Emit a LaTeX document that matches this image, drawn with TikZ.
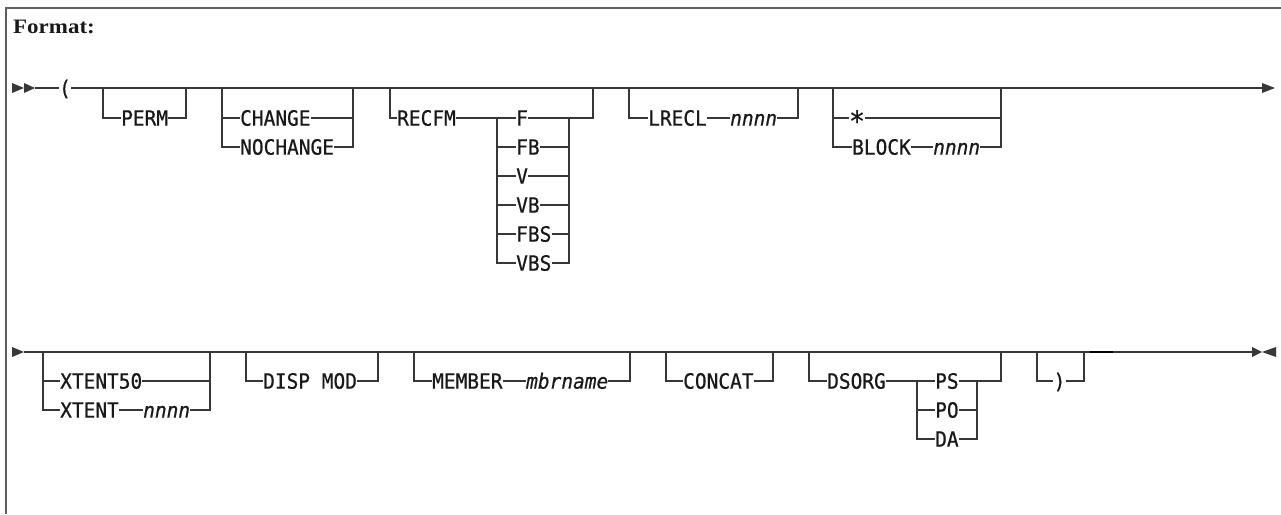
\documentclass[tikz,border=0pt]{standalone}
\usepackage{fontspec}
\newfontfamily\synfont[FakeStretch=0.927, RawFeature={embolden=0.7}]{DejaVu Sans Mono}
\newfontfamily\fmtfont[FakeStretch=1.12]{Liberation Serif}
\newcommand\syn{\synfont\fontsize{21pt}{24pt}\selectfont}
\definecolor{linec}{RGB}{55,55,55}
\definecolor{txtc}{RGB}{25,25,25}
\definecolor{framec}{RGB}{95,95,95}
\tikzset{
  ln/.style={draw=linec, line width=1.4pt},
  lbl/.style={inner sep=0pt, anchor=west, font=\syn, text=txtc, text height=15.3pt, text depth=0pt},
  var/.style={lbl, font=\syn\itshape},
  tip/.style={fill=linec},
  frame/.style={draw=framec, line width=2pt}
}
\begin{document}
\begin{tikzpicture}[x=1pt,y=-1pt]
\useasboundingbox (0,0) rectangle (1281,514);
% frame
\coordinate (fr1) at (6,514);
\coordinate (fr2) at (6,8);
\coordinate (fr3) at (1281,8);
\draw[frame] (fr1) -- (fr2) -- (fr3);
\node[anchor=base west, inner sep=0pt, text=txtc, font=\fmtfont\bfseries\fontsize{20.5}{24}\selectfont] (fmt) at (13,33) {Format:};

% ---------------- row 1 ----------------
\fill[tip] (12,83) -- (24,88) -- (12,93) -- cycle;
\fill[tip] (24,83) -- (35,88) -- (24,93) -- cycle;
\coordinate (st) at (35,88);
\node[lbl,anchor=center] (lp) at (65,88) {(};
\coordinate (end1) at (1262,88);
\draw[ln] (st) -- (lp.west);
\draw[ln] (lp.east) -- (end1);
\fill[tip] (1262,83) -- (1275,88) -- (1262,93) -- cycle;

% PERM
\coordinate (permL) at (103,88);
\coordinate (permR) at (186,88);
\node[lbl] (perm) at (121,118) {PERM};
\draw[ln] (permL) |- (perm.west);
\draw[ln] (perm.east) -| (permR);

% CHANGE / NOCHANGE
\coordinate (chL) at (222,88);
\coordinate (chR) at (353,88);
\node[lbl] (chg) at (240,118) {CHANGE};
\node[lbl] (nochg) at (240,147) {NOCHANGE};
\draw[ln] (chL) |- (nochg.west);
\draw[ln] (chL |- chg.west) -- (chg.west);
\draw[ln] (chg.east) -| (chR);
\draw[ln] (nochg.east) -| (chR);

% RECFM
\coordinate (rfL) at (390,88);
\coordinate (rfR) at (593,88);
\node[lbl] (recfm) at (397,118) {RECFM};
\coordinate (fL) at (497,118);
\coordinate (fR) at (569,118);
\draw[ln] (rfL) |- (recfm.west);
\draw[ln] (recfm.east) -- (fL);
\node[lbl] (f) at (516,118) {F};
\node[lbl] (fb) at (516,147) {FB};
\node[lbl] (v) at (516,176) {V};
\node[lbl] (vb) at (516,205) {VB};
\node[lbl] (fbs) at (516,234) {FBS};
\node[lbl] (vbs) at (516,263) {VBS};
\draw[ln] (fL) |- (vbs.west);
\draw[ln] (fL) -- (f.west);
\draw[ln] (fL |- fb.west) -- (fb.west);
\draw[ln] (fL |- v.west) -- (v.west);
\draw[ln] (fL |- vb.west) -- (vb.west);
\draw[ln] (fL |- fbs.west) -- (fbs.west);
\draw[ln] (f.east) -- (fR);
\draw[ln] (fb.east) -| (fR);
\draw[ln] (v.east) -| (fR);
\draw[ln] (vb.east) -| (fR);
\draw[ln] (fbs.east) -| (fR);
\draw[ln] (vbs.east) -| (fR);
\draw[ln] (fR) -| (rfR);

% LRECL
\coordinate (lrL) at (629,88);
\coordinate (lrR) at (798,88);
\node[lbl] (lrecl) at (648,118) {LRECL};
\node[var] (lrn) at (730,118) {nnnn};
\draw[ln] (lrL) |- (lrecl.west);
\draw[ln] (lrecl.east) -- (lrn.west);
\draw[ln] (lrn.east) -| (lrR);

% * / BLOCK
\coordinate (bkL) at (833,88);
\coordinate (bkR) at (1001,88);
\node[lbl,anchor=center] (star) at (857,118) {\raisebox{-5.5pt}{\scalebox{1.35}{*}}};
\node[lbl] (bl) at (852,147) {BLOCK};
\node[var] (bln) at (933,147) {nnnn};
\draw[ln] (bkL) |- (bl.west);
\draw[ln] (bkL |- star.west) -- (star.west);
\draw[ln] (star.east) -| (bkR);
\draw[ln] (bl.east) -- (bln.west);
\draw[ln] (bln.east) -| (bkR);

% ---------------- row 2 ----------------
\fill[tip] (12,347) -- (24,352) -- (12,357) -- cycle;
\coordinate (st2) at (24,352);
\coordinate (end2) at (1252,352);
\draw[ln] (st2) -- (end2);
\fill[tip] (1252,347) -- (1262,352) -- (1252,357) -- cycle;
\fill[tip] (1276,347) -- (1262,352) -- (1276,357) -- cycle;

% XTENT
\coordinate (xtL) at (43,352);
\coordinate (xtR) at (210,352);
\node[lbl] (xt50) at (60,381) {XTENT50};
\node[lbl] (xt) at (60,410) {XTENT};
\node[var] (xtn) at (143,410) {nnnn};
\draw[ln] (xtL) |- (xt.west);
\draw[ln] (xtL |- xt50.west) -- (xt50.west);
\draw[ln] (xt50.east) -| (xtR);
\draw[ln] (xt.east) -- (xtn.west);
\draw[ln] (xtn.east) -| (xtR);

% DISP MOD
\coordinate (dmL) at (246,352);
\coordinate (dmR) at (378,352);
\node[lbl] (dm) at (263,381) {DISP MOD};
\draw[ln] (dmL) |- (dm.west);
\draw[ln] (dm.east) -| (dmR);

% MEMBER
\coordinate (mbL) at (414,352);
\coordinate (mbR) at (630,352);
\node[lbl] (mb) at (432,381) {MEMBER};
\node[var] (mbn) at (526,381) {mbrname};
\draw[ln] (mbL) |- (mb.west);
\draw[ln] (mb.east) -- (mbn.west);
\draw[ln] (mbn.east) -| (mbR);

% CONCAT
\coordinate (ccL) at (666,352);
\coordinate (ccR) at (773,352);
\node[lbl] (cc) at (683,381) {CONCAT};
\draw[ln] (ccL) |- (cc.west);
\draw[ln] (cc.east) -| (ccR);

% DSORG
\coordinate (dsL) at (809,352);
\coordinate (dsR) at (1001,352);
\node[lbl] (ds) at (827,381) {DSORG};
\coordinate (pL) at (917,381);
\coordinate (pR) at (977,381);
\node[lbl] (ps) at (935,381) {PS};
\node[lbl] (po) at (935,410) {PO};
\node[lbl] (da) at (935,439) {DA};
\draw[ln] (dsL) |- (ds.west);
\draw[ln] (ds.east) -- (pL);
\draw[ln] (pL) |- (da.west);
\draw[ln] (pL) -- (ps.west);
\draw[ln] (pL |- po.west) -- (po.west);
\draw[ln] (ps.east) -- (pR);
\draw[ln] (po.east) -| (pR);
\draw[ln] (da.east) -| (pR);
\draw[ln] (pR) -| (dsR);

% )
\coordinate (rpL) at (1037,352);
\coordinate (rpR) at (1084,352);
\node[lbl,anchor=center] (rp) at (1059.5,381) {)};
\draw[ln] (rpL) |- (rp.west);
\draw[ln] (rp.east) -| (rpR);

% thick segment
\coordinate (tk1) at (1090,352);
\coordinate (tk2) at (1113,352);
\draw[line width=2.6pt, draw=black] (tk1) -- (tk2);
\end{tikzpicture}
\end{document}
